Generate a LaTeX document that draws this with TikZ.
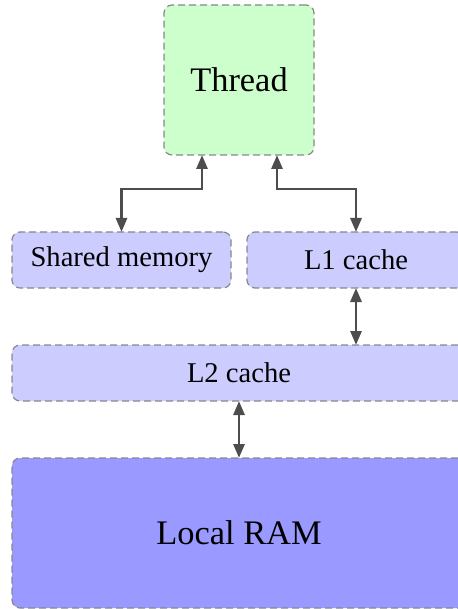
\documentclass[tikz,border=0pt]{standalone}
\usepackage{fontspec}
\setmainfont{Liberation Serif}
\usetikzlibrary{arrows.meta,calc}
\definecolor{boxgreen}{HTML}{CCFFCC}
\definecolor{boxblue}{HTML}{CCCCFF}
\definecolor{ramblue}{HTML}{9999FF}
\definecolor{bordergray}{HTML}{888888}
\definecolor{linkgray}{HTML}{4D4D4D}
\tikzset{
  membox/.style={draw=bordergray, line width=1.2pt, dash pattern=on 7pt off 4pt,
    rounded corners=8pt, inner sep=0pt, outer sep=0pt, fill=boxblue,
    font=\fontsize{28.6}{34}\selectfont},
  bigbox/.style={membox, font=\fontsize{34.4}{40}\selectfont},
  link/.style={draw=linkgray, line width=2.8pt,
    {Triangle[length=14pt,width=11pt]}-{Triangle[length=14pt,width=11pt]}}
}
\begin{document}
\begin{tikzpicture}[x=1pt,y=-1pt]
\useasboundingbox (0,0) rectangle (457,609);
\node[bigbox, fill=boxgreen, minimum width=150pt, minimum height=150pt] (thread) at (239,80) {Thread};
\node[membox, minimum width=219pt, minimum height=56pt] (shared) at (121.5,260) {Shared memory};
\node[membox, minimum width=218pt, minimum height=56pt] (l1) at (356,260) {L1 cache};
\node[membox, minimum width=454pt, minimum height=56pt] (l2) at (239,373) {L2 cache};
\node[bigbox, fill=ramblue, minimum width=454pt, minimum height=150pt] (ram) at (239,533) {Local RAM};
\draw[link] ([xshift=-37pt]thread.south) -- ++(0,34) -| (shared.north);
\draw[link] ([xshift=38pt]thread.south) -- ++(0,34) -| (l1.north);
\draw[link] (l1.south) -- (l1.south |- l2.north);
\draw[link] (l2.south) -- (ram.north);
\end{tikzpicture}
\end{document}
